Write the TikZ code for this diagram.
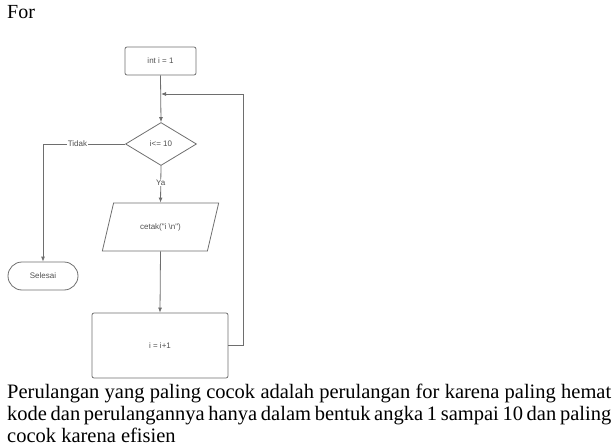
\documentclass[tikz,border=0pt]{standalone}
\usepackage{fontspec}
\setmainfont{Liberation Serif}
\newfontfamily\chartfont{Liberation Sans}
\usetikzlibrary{shapes.geometric,arrows.meta}

\definecolor{lineg}{HTML}{6E6E6E}
\definecolor{textg}{HTML}{505050}

\tikzset{
	chart/.style={draw=lineg, line width=0.8pt, font=\chartfont\fontsize{8}{9}\selectfont, text=textg},
	procbox/.style={chart, rectangle, rounded corners=2pt},
	decision/.style={chart, diamond, inner sep=0pt},
	iobox/.style={chart, trapezium, trapezium left angle=68, trapezium right angle=112, trapezium stretches=true},
	endbox/.style={chart, rectangle, rounded corners=14pt},
	flow/.style={draw=lineg, line width=0.8pt, -{Latex[length=5pt,width=4pt]}},
	flowlabel/.style={fill=white, inner sep=1pt, font=\chartfont\fontsize{8}{9}\selectfont, text=textg}
}

\begin{document}
\begin{tikzpicture}[x=1pt, y=-1pt]
	\useasboundingbox (0, 0) rectangle (614, 447);
	%%
	\node[anchor=base west, inner sep=0pt, font=\fontsize{20}{22}\selectfont] (title) at (7, 19) {For};
	%%
	\node[procbox, minimum width=71pt, minimum height=28pt] (init) at (160.5, 61) {int i = 1};
	\node[decision, minimum width=71pt, minimum height=43pt] (cond) at (161, 144) {i<= 10};
	\node[iobox, minimum width=117pt, minimum height=48pt] (print) at (160.5, 227) {cetak("i \textbackslash n")};
	\node[procbox, minimum width=136pt, minimum height=65pt] (step) at (160, 345.5) {i = i+1};
	\node[endbox, minimum width=70pt, minimum height=28pt] (stop) at (43, 276) {Selesai};
	%%
	\coordinate (join) at (161, 94);
	\coordinate (loopcorner) at (243, 94);
	\coordinate (nocorner) at (43, 144);
	%%
	\draw[flow] (init.south) -- (cond.north);
	\draw[flow] (cond.south) -- node[flowlabel, pos=0.45]{Ya} (print.north);
	\draw[flow] (print.south) -- (step.north);
	\draw[flow] (cond.west) -- node[flowlabel, pos=0.58]{Tidak} (nocorner) -- (stop.north);
	\draw[flow] (step.east) -| (loopcorner) -- (join);
	%%
	\node[anchor=north west, inner sep=0pt, align=justify, text width=604pt, font=\fontsize{20.5}{22}\selectfont] (note) at (7, 384)
		{Perulangan yang paling cocok adalah perulangan for karena paling hemat\linebreak
		kode dan perulangannya hanya dalam bentuk angka 1 sampai 10 dan paling\linebreak
		cocok karena efisien};
\end{tikzpicture}
\end{document}
